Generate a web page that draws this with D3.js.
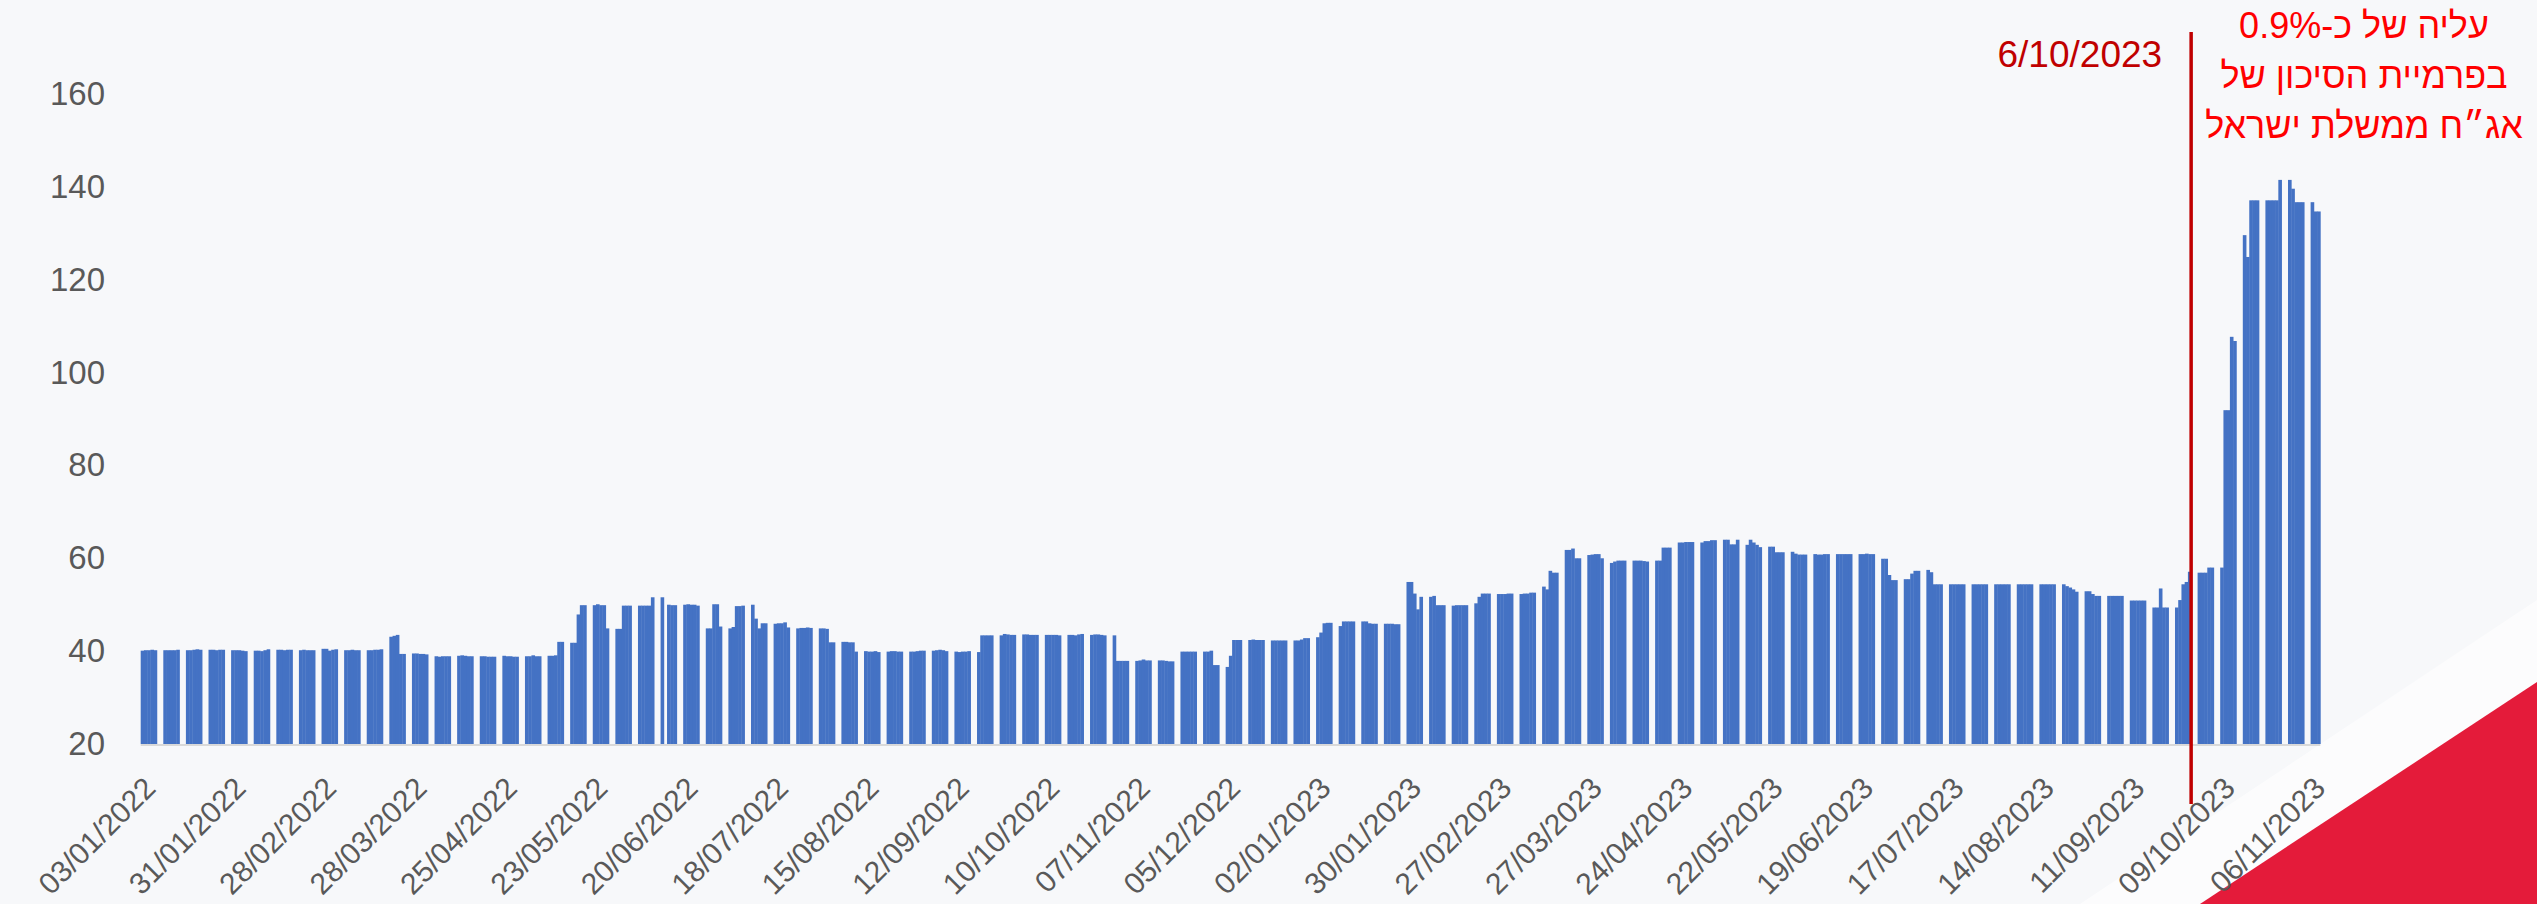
<!DOCTYPE html>
<meta charset="utf-8">
<style>
    body {
        margin: 0;
        background-color: #f7f8fa;
    }
    svg {
        display: block;
    }
    .axis text {
        font-family: "Liberation Sans", Arial, sans-serif;
        fill: #595959;
    }
    .axis path,
    .axis line {
        display: none;
    }
    .bar {
        fill: #4472C4;
    }
</style>
<body>
<svg width="2537" height="904"></svg>
<script src="https://cdn.jsdelivr.net/npm/d3@7/dist/d3.min.js"></script>
<script>
    // first trading day shown, one row per week (Mon..Fri), null = no quote
    var startDay = "03/01/2022";
    var spread = [
        [40.1, 40.2, 40.2, 40.3, 40.2],   // 03/01/2022
        [40.2, 40.2, 40.2, 40.2, 40.3],
        [40.2, 40.2, 40.3, 40.4, 40.3],
        [40.3, 40.3, 40.2, 40.3, 40.3],
        [40.2, 40.2, 40.2, 40.1, 40.0],   // 31/01/2022
        [40.1, 40.1, 40.0, 40.2, 40.4],
        [40.3, 40.3, 40.2, 40.3, 40.3],
        [40.2, 40.3, 40.2, 40.2, 40.2],
        [40.5, 40.5, 40.1, 40.3, 40.4],   // 28/02/2022
        [40.2, 40.2, 40.3, 40.2, 40.2],
        [40.2, 40.2, 40.3, 40.3, 40.4],
        [43.1, 43.3, 43.5, 39.4, 39.4],
        [39.5, 39.5, 39.4, 39.4, 39.3],   // 28/03/2022
        [38.9, 38.8, 38.9, 38.9, 38.9],
        [39.0, 39.1, 39.0, 38.9, 38.9],
        [38.9, 38.9, 38.8, 38.8, 38.8],
        [39.0, 38.9, 38.9, 38.8, 38.8],   // 25/04/2022
        [38.9, 38.9, 39.1, 38.9, 38.9],
        [39.0, 39.0, 39.1, 42.0, 42.0],
        [41.8, 41.8, 47.9, 49.9, 49.9],
        [49.9, 50.1, 49.9, 49.9, 44.9],   // 23/05/2022
        [44.8, 44.8, 49.8, 49.8, 49.8],
        [49.8, 49.8, 49.8, 49.8, 51.6],
        [51.6, null, 50.0, 49.9, 49.9],
        [50.0, 50.1, 50.0, 50.0, 49.8],   // 20/06/2022
        [44.9, 44.9, 50.1, 50.1, 45.3],
        [44.9, 45.2, 49.7, 49.7, 49.8],
        [50.0, 47.0, 44.9, 46.0, 46.0],
        [45.9, 46.0, 46.0, 46.2, 45.1],   // 18/07/2022
        [44.9, 45.0, 45.0, 45.1, 45.0],
        [44.9, 44.9, 44.8, 41.9, 41.9],
        [42.0, 42.0, 41.9, 41.9, 39.9],
        [40.0, 39.9, 39.9, 40.0, 39.8],   // 15/08/2022
        [39.9, 40.0, 40.0, 39.9, 39.9],
        [39.9, 39.9, 40.0, 40.1, 40.1],
        [40.1, 40.2, 40.3, 40.2, 40.0],
        [39.9, 39.8, 39.9, 39.9, 40.0],   // 12/09/2022
        [39.8, 43.4, 43.4, 43.4, 43.4],
        [43.4, 43.7, 43.6, 43.5, 43.5],
        [43.6, 43.6, 43.5, 43.5, 43.5],
        [43.5, 43.5, 43.5, 43.5, 43.4],   // 10/10/2022
        [43.5, 43.5, 43.4, 43.6, 43.7],
        [43.5, 43.6, 43.6, 43.5, 43.4],
        [43.4, 37.9, 37.9, 37.9, 37.9],
        [37.9, 38.0, 38.2, 38.0, 38.0],   // 07/11/2022
        [38.0, 38.0, 37.9, 37.8, 37.8],
        [39.9, 39.9, 39.9, 39.9, 39.9],
        [39.9, 39.9, 40.1, 37.0, 37.0],
        [36.6, 39.0, 42.4, 42.4, 42.4],   // 05/12/2022
        [42.4, 42.5, 42.4, 42.4, 42.4],
        [42.3, 42.3, 42.3, 42.3, 42.3],
        [42.3, 42.3, 42.5, 42.8, 42.8],
        [43.0, 44.0, 46.0, 46.1, 46.1],   // 02/01/2023
        [45.4, 46.4, 46.4, 46.4, 46.4],
        [46.4, 46.4, 46.0, 45.9, 45.9],
        [45.9, 45.9, 45.9, 45.8, 45.8],
        [54.9, 54.9, 52.4, 49.0, 51.7],   // 30/01/2023
        [51.7, 51.9, 49.9, 49.9, 49.9],
        [49.8, 49.9, 49.9, 49.9, 49.9],
        [50.3, 51.7, 52.4, 52.4, 52.4],
        [52.3, 52.3, 52.3, 52.4, 52.4],   // 27/02/2023
        [52.3, 52.4, 52.4, 52.6, 52.6],
        [53.9, 53.3, 57.3, 56.9, 56.9],
        [61.8, 61.8, 62.1, 60.0, 60.0],
        [60.7, 60.8, 60.9, 60.9, 60.0],   // 27/03/2023
        [59.0, 59.3, 59.5, 59.5, 59.5],
        [59.5, 59.5, 59.5, 59.4, 59.3],
        [59.5, 59.5, 62.3, 62.3, 62.3],
        [63.4, 63.4, 63.5, 63.5, 63.5],   // 24/04/2023
        [63.4, 63.7, 63.7, 63.9, 63.9],
        [64.0, 64.0, 63.0, 63.0, 64.0],
        [62.9, 64.0, 63.4, 62.9, 62.4],
        [62.5, 62.5, 61.3, 61.3, 61.3],   // 22/05/2023
        [61.4, 61.0, 60.8, 60.8, 60.8],
        [60.9, 60.8, 60.8, 60.9, 60.9],
        [60.9, 60.9, 60.9, 60.9, 60.9],
        [60.9, 60.9, 61.0, 60.9, 60.9],   // 19/06/2023
        [59.9, 59.9, 56.4, 55.3, 55.3],
        [55.5, 55.5, 56.7, 57.3, 57.3],
        [57.5, 57.0, 54.4, 54.4, 54.4],
        [54.4, 54.4, 54.4, 54.4, 54.4],   // 17/07/2023
        [54.4, 54.4, 54.4, 54.4, 54.4],
        [54.4, 54.4, 54.4, 54.4, 54.4],
        [54.4, 54.4, 54.4, 54.4, 54.4],
        [54.4, 54.4, 54.4, 54.4, 54.4],   // 14/08/2023
        [54.4, 54.0, 53.7, 53.3, 52.8],
        [52.9, 52.9, 52.3, 51.9, 51.9],
        [51.9, 51.9, 51.9, 51.9, 51.9],
        [50.9, 50.9, 50.9, 50.9, 50.9],   // 11/09/2023
        [49.4, 49.4, 53.5, 49.4, 49.4],
        [49.4, 51.0, 54.4, 54.9, 57.1],
        [56.9, 56.9, 56.9, 58.0, 58.0],
        [58.0, 91.9, 91.9, 107.7, 106.8], // 09/10/2023
        [129.6, 124.9, 137.1, 137.1, 137.1],
        [137.1, 137.1, 137.1, 137.1, 141.5],
        [141.5, 139.6, 136.7, 136.7, 136.7],
        [136.7, 134.7, 134.7]             // 06/11/2023
    ];

    var tickLabels = ["03/01/2022", "31/01/2022", "28/02/2022", "28/03/2022", "25/04/2022",
        "23/05/2022", "20/06/2022", "18/07/2022", "15/08/2022", "12/09/2022", "10/10/2022",
        "07/11/2022", "05/12/2022", "02/01/2023", "30/01/2023", "27/02/2023", "27/03/2023",
        "24/04/2023", "22/05/2023", "19/06/2023", "17/07/2023", "14/08/2023", "11/09/2023",
        "09/10/2023", "06/11/2023"];
    var yTicks = [20, 40, 60, 80, 100, 120, 140, 160];

    var eventLabel = "6/10/2023";
    var eventLineDay = "30/09/2023";   // where the marker is drawn in the source
    var noteLines = ["עליה של כ-0.9%", "בפרמיית הסיכון של", "אג״ח ממשלת ישראל"];

    var svg = d3.select("svg"),
        width = +svg.attr("width"),
        height = +svg.attr("height");

    var parseDay = d3.utcParse("%d/%m/%Y");
    var start = parseDay(startDay);

    var rows = [];
    spread.forEach(function(week, k) {
        week.forEach(function(v, i) {
            var date = d3.utcDay.offset(start, k * 7 + i);
            if (v !== null) rows.push({date: date, value: v});
        });
    });
    var lastWeek = spread.length - 1;
    var end = d3.utcDay.offset(start, lastWeek * 7 + spread[lastWeek].length);

    var x = d3.scaleUtc().domain([start, end]).range([140.7, 2320.3]);
    var y = d3.scaleLinear().domain([20, 160]).range([744, 94]);

    // background pieces
    svg.append("rect")
        .attr("width", width)
        .attr("height", height)
        .attr("fill", "#f7f8fa");

    svg.append("polygon")
        .attr("points", "2537,600 2537,682 2200,904 2080,904")
        .attr("fill", "#fcfcfd");
    svg.append("polygon")
        .attr("points", "2537,682 2537,904 2200,904")
        .attr("fill", "#e41b3a");

    var g = svg.append("g");

    g.selectAll(".bar")
        .data(rows)
        .enter().append("rect")
        .attr("class", "bar")
        .attr("x", function(d) { return x(d.date); })
        .attr("width", function(d) { return x(d3.utcDay.offset(d.date, 1)) - x(d.date) + 0.4; })
        .attr("y", function(d) { return y(d.value); })
        .attr("height", function(d) { return y(20) - y(d.value); });

    g.append("line")
        .attr("x1", x(start))
        .attr("x2", x(end))
        .attr("y1", y(20) + 1)
        .attr("y2", y(20) + 1)
        .attr("stroke", "#d9d9d9")
        .attr("stroke-width", 2);

    // y axis
    g.append("g")
        .attr("class", "axis axis--y")
        .attr("transform", "translate(105,0)")
        .call(d3.axisLeft(y).tickValues(yTicks).tickSize(0).tickPadding(0))
        .selectAll("text")
        .style("font-size", "33px");

    // x axis, rotated date labels
    var tickDates = tickLabels.map(parseDay);
    g.append("g")
        .attr("class", "axis axis--x")
        .attr("transform", "translate(0," + y(20) + ")")
        .call(d3.axisBottom(x).tickValues(tickDates).tickSize(0)
            .tickFormat(function(d, i) { return tickLabels[i]; }))
        .selectAll("text")
        .attr("y", 0)
        .attr("dy", 0)
        .attr("transform", "translate(16,46) rotate(-45)")
        .style("text-anchor", "end")
        .style("font-size", "30px");

    // event marker
    var ex = x(parseDay(eventLineDay));
    svg.append("line")
        .attr("x1", ex)
        .attr("x2", ex)
        .attr("y1", 32)
        .attr("y2", 804)
        .attr("stroke", "#c00000")
        .attr("stroke-width", 3.5);

    svg.append("text")
        .attr("x", ex - 29)
        .attr("y", 67)
        .attr("text-anchor", "end")
        .attr("fill", "#c00000")
        .style("font-family", "Liberation Sans, Arial, sans-serif")
        .style("font-size", "37px")
        .text(eventLabel);

    svg.append("g")
        .selectAll("text")
        .data(noteLines)
        .enter().append("text")
        .attr("x", 2364)
        .attr("y", function(d, i) { return 38 + i * 50; })
        .attr("direction", "rtl")
        .attr("text-anchor", "middle")
        .attr("fill", "#ff0000")
        .style("font-family", "Liberation Sans, Arial, sans-serif")
        .style("font-size", "36px")
        .text(function(d) { return d; });
</script>
</body>
